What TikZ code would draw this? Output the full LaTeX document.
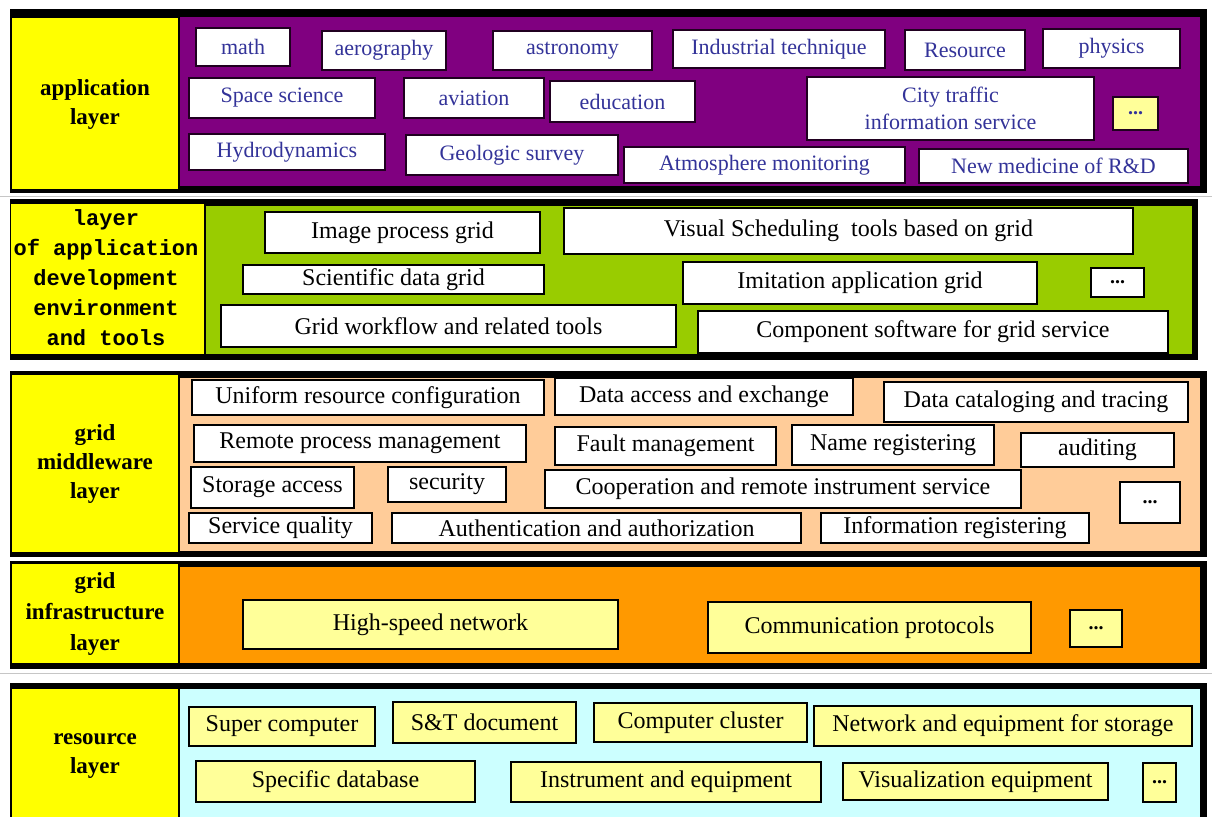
\documentclass[tikz,border=0pt]{standalone}
\usepackage{fontspec}
\setmainfont{Liberation Serif}
\newfontfamily\labelmono{Liberation Mono}
\usepackage{xcolor}
\usepackage{tikz}

\definecolor{appbg}{HTML}{800080}
\definecolor{devbg}{HTML}{99CC00}
\definecolor{midbg}{HTML}{FFCC99}
\definecolor{infbg}{HTML}{FF9900}
\definecolor{resbg}{HTML}{CCFFFF}
\definecolor{lblyellow}{HTML}{FFFF00}
\definecolor{paleyellow}{HTML}{FFFF99}
\definecolor{navytext}{HTML}{333399}

\begin{document}
\begin{tikzpicture}[x=1pt, y=-1pt,
        lbl/.style={align=center, font=\fontsize{23}{29}\selectfont\bfseries},
        devlbl/.style={align=center, font=\fontsize{22}{30}\selectfont\labelmono\bfseries},
        item/.style 2 args={draw=black, line width=1.2pt, fill=white, inner sep=0pt,
            minimum width=#1pt, minimum height=#2pt, font=\fontsize{24}{28}\selectfont},
        appitem/.style 2 args={item={#1}{#2}, draw=black!75!appbg, line width=1.6pt,
            text=navytext, font=\fontsize{22}{27}\selectfont},
        resitem/.style 2 args={item={#1}{#2}, fill=paleyellow},
        dots/.style={font=\fontsize{20}{24}\selectfont\bfseries}]
                \useasboundingbox (0,0) rectangle (1212,817);

                % layer frames and panels
                \fill (10,9) rectangle (1207,193);
                \fill[lblyellow] (12,18) rectangle (178,189);
                \fill[appbg] (180,17) rectangle (1200,186);

                \fill (10,199) rectangle (1198,360);
                \fill[lblyellow] (11,204) rectangle (204,354);
                \fill[devbg] (206,206) rectangle (1192,354);

                \fill (10,371) rectangle (1207,557);
                \fill[lblyellow] (12,375) rectangle (178,552);
                \fill[midbg] (180,378) rectangle (1200,551);

                \fill (10,561) rectangle (1207,669);
                \fill[lblyellow] (12,564) rectangle (178,663);
                \fill[infbg] (180,567) rectangle (1200,663);

                \draw[gray!45, line width=1pt] (0,196) -- (1212,196);
                \draw[gray!45, line width=1pt] (0,673) -- (1212,673);

                \fill (10,683) rectangle (1207,817);
                \fill[lblyellow] (12,689) rectangle (178,817);
                \fill[resbg] (180,689) rectangle (1200,817);

                % layer names
                \node[lbl] (applayer) at (95,104) {application\\layer};
                \node[devlbl] (devlayer) at (106,278) {layer\\of application\\development\\environment\\and tools};
                \node[lbl] (midlayer) at (95,464) {grid\\middleware\\layer};
                \node[lbl, font=\fontsize{23}{31}\selectfont\bfseries] (inflayer) at (95,614) {grid\\infrastructure\\layer};
                \node[lbl] (reslayer) at (95,756) {resource\\layer};

                % application layer
                \node[appitem={94}{38}] (math) at (243,47) {math};
                \node[appitem={124}{39}] (aerography) at (384,50.5) {aerography};
                \node[appitem={159}{39}] (astronomy) at (572.5,50.5) {astronomy};
                \node[appitem={212}{38}] (industrial) at (779,49) {Industrial technique};
                \node[appitem={120}{40}] (resource) at (965,50) {Resource};
                \node[appitem={137}{39}] (physics) at (1111.5,48.5) {physics};
                \node[appitem={186}{40}] (space) at (282,98) {Space science};
                \node[appitem={140}{40}] (aviation) at (474,98) {aviation};
                \node[appitem={145}{41}] (education) at (622.5,101.5) {education};
                \node[appitem={287}{63}, align=center] (citytraffic) at (950.5,108.5) {City traffic\\information service};
                \node[appitem={45}{33}, fill=paleyellow, dots] (appmore) at (1135.5,113.5) {...};
                \node[appitem={196}{36}] (hydro) at (287,152) {Hydrodynamics};
                \node[appitem={212}{40}] (geologic) at (512,155) {Geologic survey};
                \node[appitem={281}{36}] (atmosphere) at (764.5,165) {Atmosphere monitoring};
                \node[appitem={269}{34}] (medicine) at (1053.5,166) {New medicine of R\&D};

                % application development environment and tools
                \node[item={275}{41}] (imageproc) at (402.5,232.5) {Image process grid};
                \node[item={569}{46}] (visualsched) at (848.5,231) {Visual Scheduling\ \ tools based on grid};
                \node[item={301}{29}] (scidata) at (393.5,279.5) {Scientific data grid};
                \node[item={354}{42}] (imitation) at (860,283) {Imitation application grid};
                \node[item={53}{29}, dots] (devmore) at (1117.5,282.5) {...};
                \node[item={455}{42}] (workflow) at (448.5,326) {Grid workflow and related tools};
                \node[item={470}{42}] (component) at (933,332) {Component software for grid service};

                % grid middleware
                \node[item={352}{35}] (uniform) at (368,397.5) {Uniform resource configuration};
                \node[item={298}{37}] (dataaccess) at (704,396.5) {Data access and exchange};
                \node[item={304}{40}] (catalog) at (1036,402) {Data cataloging and tracing};
                \node[item={332}{37}] (remote) at (360,443.5) {Remote process management};
                \node[item={221}{38}] (fault) at (665.5,446) {Fault management};
                \node[item={202}{40}] (naming) at (893,445) {Name registering};
                \node[item={153}{34}] (auditing) at (1097.5,450) {auditing};
                \node[item={163}{41}] (storage) at (272.5,487.5) {Storage access};
                \node[item={118}{35}] (security) at (447,484.5) {security};
                \node[item={476}{38}] (cooperation) at (783,489) {Cooperation and remote instrument service};
                \node[item={60}{41}, dots] (midmore) at (1150,502.5) {...};
                \node[item={183}{30}] (quality) at (280.5,528) {Service quality};
                \node[item={409}{30}] (authent) at (596.5,528) {Authentication and authorization};
                \node[item={268}{30}] (inforeg) at (955,528) {Information registering};

                % grid infrastructure
                \node[resitem={375}{49}] (highspeed) at (430.5,624.5) {High-speed network};
                \node[resitem={323}{51}] (protocols) at (869.5,627.5) {Communication protocols};
                \node[resitem={52}{37}, dots] (infmore) at (1096,628.5) {...};

                % resources
                \node[resitem={186}{39}] (supercomp) at (282,726.5) {Super computer};
                \node[resitem={183}{41}] (stdoc) at (484.5,722.5) {S\&T document};
                \node[resitem={213}{39}] (cluster) at (700.5,722.5) {Computer cluster};
                \node[resitem={378}{40}] (netstorage) at (1003,726) {Network and equipment for storage};
                \node[resitem={279}{41}] (specdb) at (335.5,781.5) {Specific database};
                \node[resitem={310}{40}] (instrument) at (666,782) {Instrument and equipment};
                \node[resitem={265}{37}] (visualeq) at (975.5,781.5) {Visualization equipment};
                \node[resitem={33}{39}, dots] (resmore) at (1159.5,782.5) {...};
            \end{tikzpicture}
\end{document}
